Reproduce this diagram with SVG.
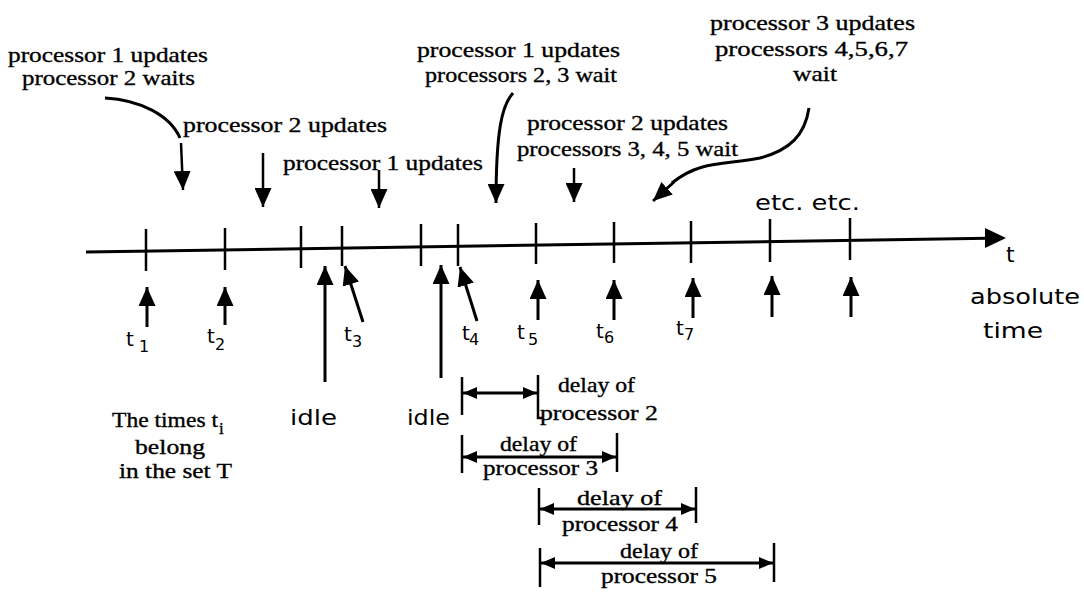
<svg xmlns="http://www.w3.org/2000/svg" width="1084" height="594" viewBox="0 0 1084 594">
<style>
.s{font-family:"Liberation Serif","Times New Roman",serif;font-size:22px;fill:#000;stroke:#000;stroke-width:0.35}
.d{font-family:"Liberation Serif","Times New Roman",serif;font-size:21px;fill:#000;stroke:#000;stroke-width:0.35}
.g{font-family:"DejaVu Sans","Liberation Sans",sans-serif;font-size:22px;fill:#000}
.tl{font-family:"DejaVu Sans","Liberation Sans",sans-serif;font-size:20px;fill:#000}
.sub{font-size:16px}
.ln{stroke:#000;stroke-width:3;fill:none}
.tk{stroke:#000;stroke-width:2.5;fill:none}
</style>
<defs>
<marker id="ah" viewBox="0 0 19 17" refX="19" refY="8.5" markerWidth="19" markerHeight="17" markerUnits="userSpaceOnUse" orient="auto"><path d="M0,0 L19,8.5 L0,17 z" fill="#000"/></marker>
<marker id="dh" viewBox="0 0 14 12" refX="14" refY="6" markerWidth="14" markerHeight="12" markerUnits="userSpaceOnUse" orient="auto-start-reverse"><path d="M0,0 L14,6 L0,12 z" fill="#000"/></marker>
</defs>
<rect width="1084" height="594" fill="#fff"/>

<g id="axis">
<line class="ln" x1="86" y1="252" x2="988" y2="238.3"/>
<polygon points="985,228 1006,238 985,248" fill="#000"/>
<line class="tk" x1="146" y1="229" x2="146" y2="271"/>
<line class="tk" x1="225" y1="228" x2="225" y2="270"/>
<line class="tk" x1="301" y1="226" x2="301" y2="268"/>
<line class="tk" x1="342" y1="226" x2="342" y2="266"/>
<line class="tk" x1="421" y1="224" x2="421" y2="266"/>
<line class="tk" x1="458" y1="224" x2="458" y2="266"/>
<line class="tk" x1="536" y1="223" x2="536" y2="264"/>
<line class="tk" x1="614" y1="222" x2="614" y2="263"/>
<line class="tk" x1="691" y1="221" x2="691" y2="263"/>
<line class="tk" x1="770" y1="219" x2="770" y2="262"/>
<line class="tk" x1="850" y1="218" x2="850" y2="260"/>
</g>

<g id="connectors">
<path class="ln" d="M105,98 C140,100 170,115 180,138"/>
<path class="ln" d="M181,143 L183,190" marker-end="url(#ah)" style="stroke-width:2.5"/>
<line class="ln" x1="263" y1="153" x2="263" y2="207" marker-end="url(#ah)" style="stroke-width:2.5"/>
<line class="ln" x1="379" y1="170" x2="379" y2="208" marker-end="url(#ah)" style="stroke-width:2.5"/>
<path class="ln" d="M513,93 C502,105 496,130 496,203" marker-end="url(#ah)"/>
<line class="ln" x1="574" y1="168" x2="574" y2="202" marker-end="url(#ah)" style="stroke-width:2.5"/>
<path class="ln" d="M809,108 C805,135 790,150 760,158 C725,165 700,160 672,183"/>
<line class="ln" x1="674" y1="182" x2="653" y2="201" marker-end="url(#ah)"/>
<line class="ln" x1="147" y1="327" x2="147" y2="287" marker-end="url(#ah)"/>
<line class="ln" x1="225" y1="325" x2="225" y2="287" marker-end="url(#ah)"/>
<line class="ln" x1="325" y1="382" x2="325" y2="266" marker-end="url(#ah)"/>
<line class="ln" x1="363" y1="322" x2="345" y2="266" marker-end="url(#ah)"/>
<line class="ln" x1="441" y1="378" x2="441" y2="265" marker-end="url(#ah)"/>
<line class="ln" x1="477" y1="321" x2="460" y2="267" marker-end="url(#ah)"/>
<line class="ln" x1="538" y1="320" x2="538" y2="280" marker-end="url(#ah)"/>
<line class="ln" x1="614" y1="320" x2="614" y2="280" marker-end="url(#ah)"/>
<line class="ln" x1="693" y1="318" x2="693" y2="278" marker-end="url(#ah)"/>
<line class="ln" x1="772" y1="317" x2="772" y2="276" marker-end="url(#ah)"/>
<line class="ln" x1="851" y1="317" x2="851" y2="277" marker-end="url(#ah)"/>
<line class="tk" x1="462" y1="377" x2="462" y2="415"/>
<path class="tk" d="M538,375 L538,418 L542,418"/>
<line class="ln" x1="463" y1="393" x2="537" y2="393" marker-start="url(#dh)" marker-end="url(#dh)"/>
<line class="tk" x1="462" y1="435" x2="462" y2="473"/>
<line class="tk" x1="617" y1="433" x2="617" y2="472"/>
<line class="ln" x1="463" y1="457" x2="616" y2="457" marker-start="url(#dh)" marker-end="url(#dh)"/>
<line class="tk" x1="539" y1="488" x2="539" y2="525"/>
<line class="tk" x1="696" y1="487" x2="696" y2="523"/>
<line class="ln" x1="540" y1="509" x2="695" y2="509" marker-start="url(#dh)" marker-end="url(#dh)"/>
<line class="tk" x1="540" y1="548" x2="540" y2="587"/>
<line class="tk" x1="774" y1="543" x2="774" y2="582"/>
<line class="ln" x1="541" y1="563" x2="773" y2="563" marker-start="url(#dh)" marker-end="url(#dh)"/>
</g>

<g id="label-p1-p2wait">
<text class="s" x="8" y="62" textLength="200" lengthAdjust="spacingAndGlyphs">processor 1 updates</text>
<text class="s" x="22" y="85" textLength="173" lengthAdjust="spacingAndGlyphs">processor 2 waits</text>
</g>
<g id="label-p2-updates"><text class="s" x="183" y="132" textLength="204" lengthAdjust="spacingAndGlyphs">processor 2 updates</text></g>
<g id="label-p1-updates"><text class="s" x="283" y="170" textLength="200" lengthAdjust="spacingAndGlyphs">processor 1 updates</text></g>
<g id="label-p1-p23wait">
<text class="s" x="417" y="57" textLength="203" lengthAdjust="spacingAndGlyphs">processor 1 updates</text>
<text class="s" x="425" y="82" textLength="192" lengthAdjust="spacingAndGlyphs">processors 2, 3 wait</text>
</g>
<g id="label-p2-p345wait">
<text class="s" x="527" y="130" textLength="201" lengthAdjust="spacingAndGlyphs">processor 2 updates</text>
<text class="s" x="517" y="156" textLength="221" lengthAdjust="spacingAndGlyphs">processors 3, 4, 5 wait</text>
</g>
<g id="label-p3-p4567wait">
<text class="s" x="710" y="30" textLength="205" lengthAdjust="spacingAndGlyphs">processor 3 updates</text>
<text class="s" x="715" y="56" textLength="193" lengthAdjust="spacingAndGlyphs">processors 4,5,6,7</text>
<text class="s" x="793" y="81" textLength="44" lengthAdjust="spacingAndGlyphs">wait</text>
</g>
<g id="label-etc"><text class="g" x="755" y="210" textLength="105" lengthAdjust="spacingAndGlyphs">etc. etc.</text></g>
<g id="label-t-abs">
<text class="g" x="1006" y="262">t</text>
<text class="g" x="970" y="304" textLength="110" lengthAdjust="spacingAndGlyphs">absolute</text>
<text class="g" x="983" y="338" textLength="60" lengthAdjust="spacingAndGlyphs">time</text>
</g>
<g id="tlabels">
<text class="tl" x="126" y="346">t<tspan class="sub" x="139" y="352">1</tspan></text>
<text class="tl" x="207" y="343">t<tspan class="sub" x="215" y="350">2</tspan></text>
<text class="tl" x="344" y="341">t<tspan class="sub" x="352" y="347">3</tspan></text>
<text class="tl" x="462" y="340">t<tspan class="sub" x="469" y="345">4</tspan></text>
<text class="tl" x="517" y="339">t<tspan class="sub" x="528" y="345">5</tspan></text>
<text class="tl" x="596" y="338">t<tspan class="sub" x="604" y="343">6</tspan></text>
<text class="tl" x="676" y="335">t<tspan class="sub" x="684" y="340">7</tspan></text>
</g>
<g id="label-times">
<text class="s" x="112" y="427" textLength="106" lengthAdjust="spacingAndGlyphs">The times t</text>
<text class="s" x="219" y="434" style="font-size:17px">i</text>
<text class="s" x="135" y="454" textLength="70" lengthAdjust="spacingAndGlyphs">belong</text>
<text class="s" x="119" y="478" textLength="113" lengthAdjust="spacingAndGlyphs">in the set T</text>
</g>
<g id="label-idle1"><text class="g" x="290" y="425" textLength="47" lengthAdjust="spacingAndGlyphs">idle</text></g>
<g id="label-idle2"><text class="g" x="407" y="425" textLength="43" lengthAdjust="spacingAndGlyphs">idle</text></g>
<g id="delay2">
<text class="d" x="558" y="392" textLength="77" lengthAdjust="spacingAndGlyphs">delay of</text>
<text class="d" x="540" y="420" textLength="118" lengthAdjust="spacingAndGlyphs">processor 2</text>
</g>
<g id="delay3">
<text class="d" x="500" y="451" textLength="77" lengthAdjust="spacingAndGlyphs">delay of</text>
<text class="d" x="483" y="475" textLength="115" lengthAdjust="spacingAndGlyphs">processor 3</text>
</g>
<g id="delay4">
<text class="d" x="577" y="505" textLength="85" lengthAdjust="spacingAndGlyphs">delay of</text>
<text class="d" x="562" y="531" textLength="116" lengthAdjust="spacingAndGlyphs">processor 4</text>
</g>
<g id="delay5">
<text class="d" x="620" y="558" textLength="78" lengthAdjust="spacingAndGlyphs">delay of</text>
<text class="d" x="601" y="583" textLength="116" lengthAdjust="spacingAndGlyphs">processor 5</text>
</g>
</svg>
